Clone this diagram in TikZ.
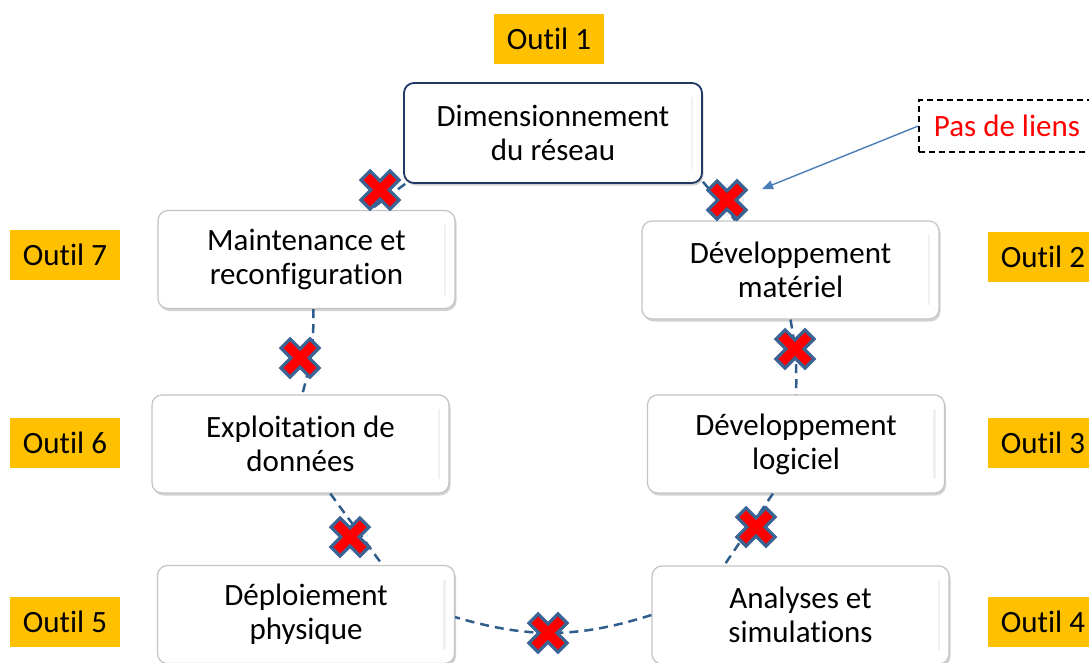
\documentclass[tikz,border=0pt]{standalone}
\usepackage{fontspec}
\setmainfont{Carlito}[Ligatures=NoCommon]
\usetikzlibrary{shadows,arrows.meta}
\definecolor{outilfill}{HTML}{FFC000}
\definecolor{linkblue}{HTML}{2F5D8C}
\definecolor{crossedge}{HTML}{3A6494}
\definecolor{arrowblue}{HTML}{4A7EBB}
\definecolor{navy}{HTML}{203864}
\definecolor{boxedge}{HTML}{C4C4C4}

\tikzset{
  nolink/.pic={
    \path[fill=red, draw=crossedge, line width=3.2pt, line join=miter, rotate=45]
      (-6.5,20.5) -- (6.5,20.5) -- (6.5,6.5) -- (20.5,6.5) -- (20.5,-6.5) -- (6.5,-6.5) -- (6.5,-20.5)
      -- (-6.5,-20.5) -- (-6.5,-6.5) -- (-20.5,-6.5) -- (-20.5,6.5) -- (-6.5,6.5) -- cycle;
  }
}

\begin{document}
\begin{tikzpicture}[x=1pt,y=-1pt,
  every node/.style={font=\fontsize{31}{34}\selectfont, inner sep=0pt},
  stage/.style={rectangle, rounded corners=10pt, fill=white, draw=boxedge,
    line width=1.2pt, minimum width=297pt, minimum height=98pt, align=center,
    drop shadow={shadow xshift=1.5pt, shadow yshift=-2.5pt, opacity=0.35},
    path picture={\draw[gray!12, line width=2.5pt]
      ([xshift=-10pt,yshift=-14pt]path picture bounding box.north east) --
      ([xshift=-10pt,yshift=14pt]path picture bounding box.south east);}},
  tool/.style={rectangle, fill=outilfill, minimum width=110pt, minimum height=50pt},
  link/.style={draw=linkblue, line width=2.5pt, dash pattern=on 9pt off 6pt},
  note/.style={rectangle, draw=black, line width=1.5pt, dash pattern=on 6pt off 4pt,
    minimum width=176pt, minimum height=52pt, text=red},
  pointer/.style={draw=arrowblue, line width=1.4pt, -{Triangle[length=11pt,width=9pt]}}
]
\useasboundingbox (0,0) rectangle (1089,662);
\clip (0,0) rectangle (1089,662);

% stages of the cycle
\node[stage, draw=navy, line width=1.8pt, minimum width=298pt, minimum height=100pt]
  (dim) at (553,133) {Dimensionnement\\du réseau};
\node[stage] (mat) at (790.5,270) {Développement\\matériel};
\node[stage] (log) at (796,444) {Développement\\logiciel};
\node[stage] (anal) at (800.5,615) {Analyses et\\simulations};
\node[stage] (deploy) at (306,614.5) {Déploiement\\physique};
\node[stage] (exploit) at (300.5,444) {Exploitation de\\données};
\node[stage] (maint) at (306.5,259.5) {Maintenance et\\reconfiguration};

% tool labels
\node[tool] (t1) at (549,39) {Outil 1};
\node[tool] (t2) at (1043,257) {Outil 2};
\node[tool] (t3) at (1043,443) {Outil 3};
\node[tool] (t4) at (1043,622) {Outil 4};
\node[tool] (t5) at (65,622) {Outil 5};
\node[tool] (t6) at (65,443) {Outil 6};
\node[tool] (t7) at (65,255) {Outil 7};

% links between consecutive stages
\draw[link] (dim.-161.5) -- (maint.38);
\draw[link] (dim.-18.5) -- (mat.138);
\draw[link] (mat.-90) to[bend left=6] (log.90);
\draw[link] (log.-115) -- (anal.147);
\draw[link] (anal.west) to[bend left=17] (deploy.-1);
\draw[link] (exploit.-59) -- (deploy.33);
\draw[link] (maint.-82) to[bend left=8] (exploit.88);

% broken links
\pic at (380,190) {nolink};
\pic at (727,200) {nolink};
\pic at (795,349) {nolink};
\pic at (756,527) {nolink};
\pic at (548,633) {nolink};
\pic at (350,537) {nolink};
\pic at (300,358) {nolink};

% annotation
\node[note] (pas) at (1007,126) {Pas de liens};
\coordinate (pastip) at (762,189);
\draw[pointer] (pas.west) -- (pastip);
\end{tikzpicture}
\end{document}
